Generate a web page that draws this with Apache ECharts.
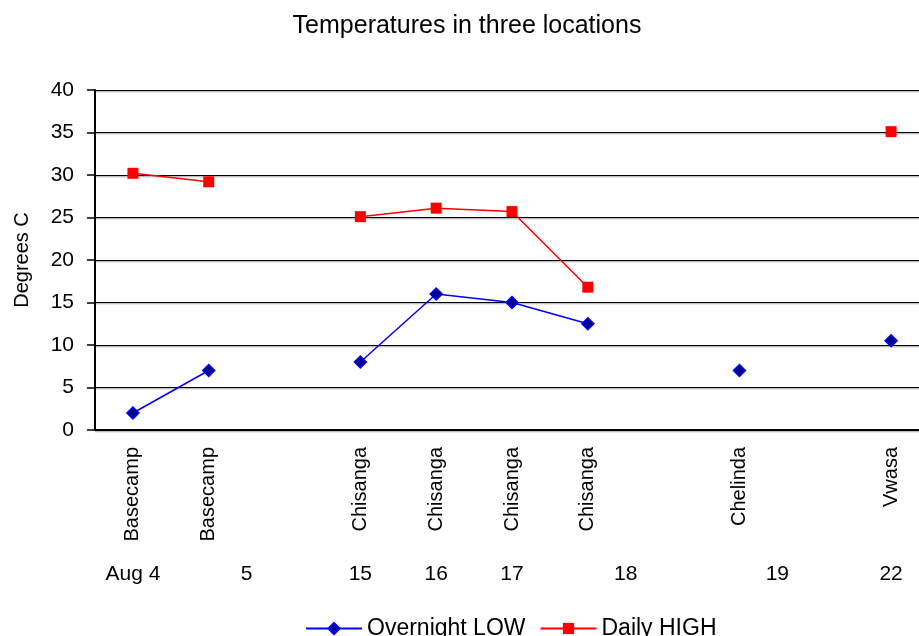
<!DOCTYPE html>
<html><head><meta charset="utf-8">
<script src="https://cdn.jsdelivr.net/npm/echarts@6/dist/echarts.min.js"></script>
<style>html,body{margin:0;padding:0;background:#fff}#c{width:919px;height:636px}</style>
</head><body><div id="c"></div>
<script>
var locations = ['Basecamp','Basecamp','','Chisanga','Chisanga','Chisanga','Chisanga','','Chelinda','','Vwasa'];
var overnightLow = [2, 7, null, 8, 16, 15, 12.5, null, 7, null, 10.5];
var dailyHigh = [30.2, 29.2, null, 25.1, 26.1, 25.7, 16.8, null, null, null, 35.1];
var dateLabels = ['Aug 4', '5', '15', '16', '17', '18', '19', '22'];
var dateSlots = [0, 1.5, 3, 4, 5, 6.5, 8.5, 10];
var yTicks = [0, 5, 10, 15, 20, 25, 30, 35, 40];

var font = 'Liberation Sans, Arial, sans-serif';
var chart = echarts.init(document.getElementById('c'));
chart.setOption({
  animation: false,
  backgroundColor: '#fff',
  textStyle: {fontFamily: font},
  title: {text: 'Temperatures in three locations', left: 462, textAlign: 'center', top: 9,
    textStyle: {fontSize: 25, fontWeight: 'normal', color: '#000', fontFamily: font}},
  legend: {top: 612, left: 300, itemWidth: 56, itemHeight: 14, itemGap: 14,
    textStyle: {fontSize: 23, color: '#000', fontFamily: font},
    data: ['Overnight LOW', 'Daily HIGH']},
  grid: {left: 95, top: 90, right: -10, height: 340, containLabel: false, outerBoundsMode: 'none'},
  xAxis: [{
    type: 'category', data: locations, boundaryGap: true,
    axisLine: {lineStyle: {color: '#000', width: 2}},
    axisTick: {show: false},
    axisLabel: {rotate: 90, margin: 17, fontSize: 20, color: '#000', fontFamily: font, interval: 0}
  }, {
    type: 'value', position: 'bottom', min: -0.5, max: 10.5, interval: 0.5,
    axisLine: {show: false, onZero: false}, axisTick: {show: false}, splitLine: {show: false},
    axisLabel: {margin: 134, fontSize: 21, color: '#000', fontFamily: font, showMinLabel: true, showMaxLabel: true,
      hideOverlap: false,
      formatter: function (v) {
        for (var i = 0; i < dateSlots.length; i++) { if (Math.abs(dateSlots[i] - v) < 1e-6) return dateLabels[i]; }
        return '';
      }}
  }],
  yAxis: {
    type: 'value', min: yTicks[0], max: yTicks[yTicks.length - 1], interval: 5,
    name: 'Degrees C', nameLocation: 'middle', nameGap: 63, nameRotate: 90,
    nameTextStyle: {fontSize: 20, color: '#000', fontFamily: font},
    axisLine: {show: true, onZero: false, lineStyle: {color: '#000', width: 2}},
    axisTick: {show: true, inside: false, length: 8, lineStyle: {color: '#000', width: 1.5}},
    axisLabel: {margin: 21, fontSize: 21, color: '#000', fontFamily: font},
    splitLine: {show: true, lineStyle: {color: '#000', width: 1.1, shadowColor: 'rgba(0,0,0,0.35)', shadowOffsetY: 1.2, shadowBlur: 0}}
  },
  series: [{
    name: 'Overnight LOW', type: 'line', data: overnightLow, connectNulls: false,
    symbol: 'diamond', symbolSize: 12,
    lineStyle: {color: '#0000ff', width: 1.5},
    itemStyle: {color: '#00008b', borderColor: '#0000ff', borderWidth: 1.5}
  }, {
    name: 'Daily HIGH', type: 'line', data: dailyHigh, connectNulls: false,
    symbol: 'rect', symbolSize: 11,
    lineStyle: {color: '#ff0000', width: 1.5},
    itemStyle: {color: '#ff0000', borderColor: '#ff0000', borderWidth: 0}
  }]
});
</script></body></html>
